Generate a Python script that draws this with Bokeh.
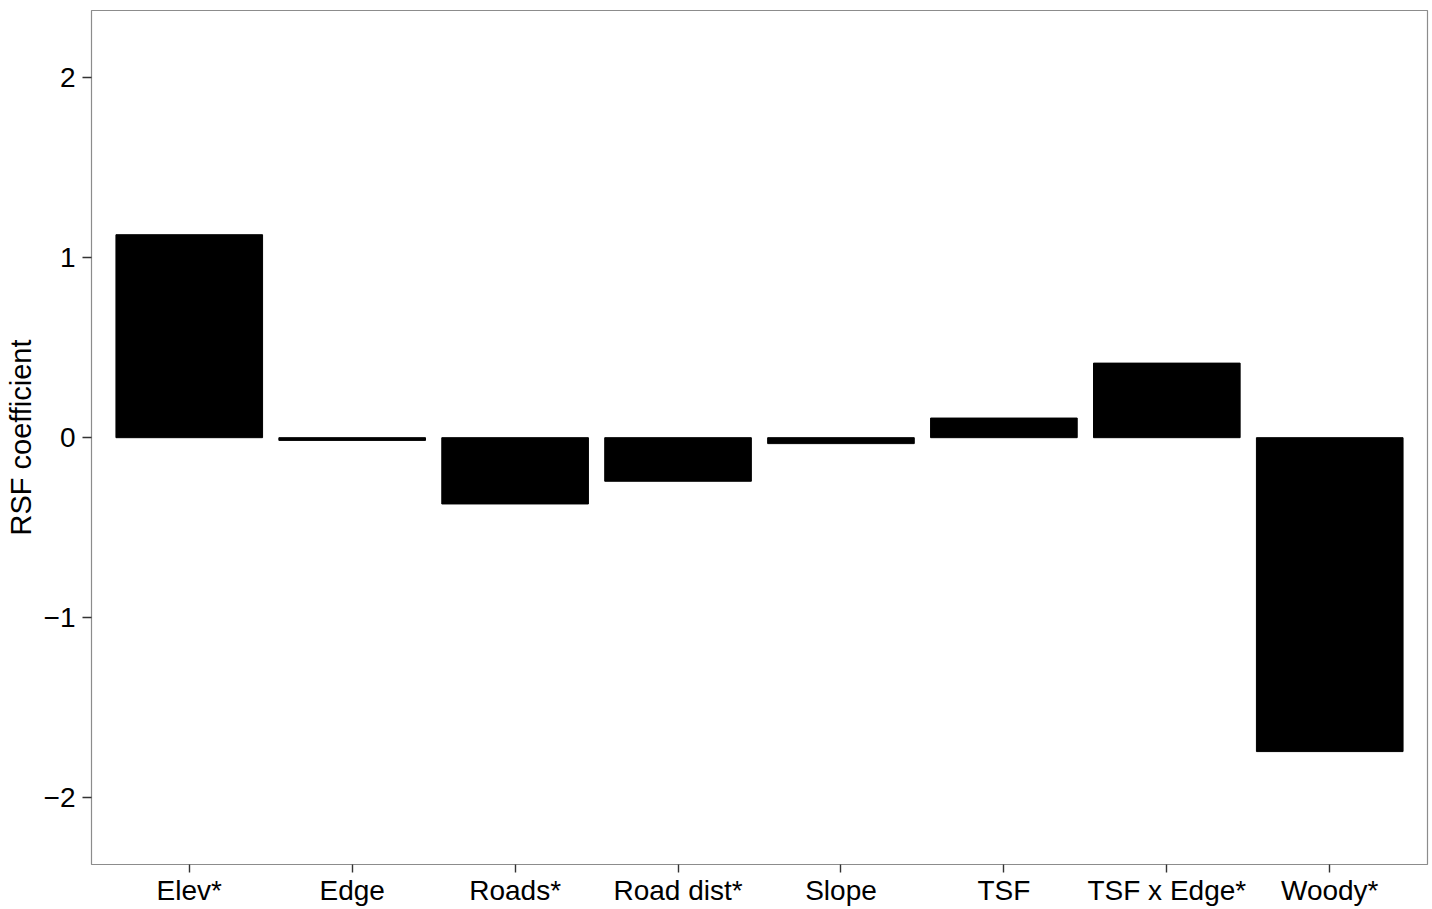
from bokeh.plotting import figure
from bokeh.models import FactorRange, Range1d, FixedTicker, ColumnDataSource
from bokeh.embed import file_html
from bokeh.resources import INLINE

# RSF coefficients per covariate
covariates = ["Elev*", "Edge", "Roads*", "Road dist*", "Slope", "TSF", "TSF x Edge*", "Woody*"]
coefficients = [1.127, -0.015, -0.368, -0.242, -0.033, 0.109, 0.414, -1.743]
y_ticks = [-2, -1, 0, 1, 2]

source = ColumnDataSource(dict(x=covariates, top=coefficients, bottom=[0] * len(coefficients)))

FONT = "Liberation Sans"

p = figure(
    width=1432, height=909,
    x_range=FactorRange(factors=covariates, range_padding=0.1, range_padding_units="absolute"),
    y_range=Range1d(-2.37, 2.372),
    output_backend="svg", toolbar_location=None,
    min_border_left=91, min_border_right=5, min_border_top=10, min_border_bottom=45,
)

p.vbar(x="x", top="top", bottom="bottom", width=0.9, source=source,
       fill_color="black", line_color="black", line_width=1)

p.background_fill_color = "white"
p.border_fill_color = "white"
p.outline_line_color = "#8c8c8c"
p.outline_line_width = 1.2
p.xgrid.visible = False
p.ygrid.visible = False

for ax in (p.xaxis[0], p.yaxis[0]):
    ax.axis_line_color = None
    ax.major_tick_line_color = "#333333"
    ax.major_tick_line_width = 1.4
    ax.major_tick_in = 0
    ax.major_tick_out = 9
    ax.minor_tick_line_color = None
    ax.major_label_text_font = FONT
    ax.major_label_text_font_size = "28px"
    ax.major_label_text_color = "black"

p.yaxis.ticker = FixedTicker(ticks=y_ticks)
p.yaxis.major_label_overrides = {t: ("\u2212" + str(abs(t)) if t < 0 else str(t)) for t in y_ticks}
p.yaxis.major_label_standoff = 7
p.yaxis.axis_label = "RSF coefficient"
p.yaxis.axis_label_text_font = FONT
p.yaxis.axis_label_text_font_size = "29px"
p.yaxis.axis_label_text_font_style = "normal"
p.yaxis.axis_label_text_color = "black"
p.yaxis.axis_label_standoff = 4

p.xaxis.major_tick_out = 8
p.xaxis.major_label_standoff = 2
p.xaxis.major_label_orientation = "horizontal"

open("out.html", "w").write(file_html(p, INLINE))
